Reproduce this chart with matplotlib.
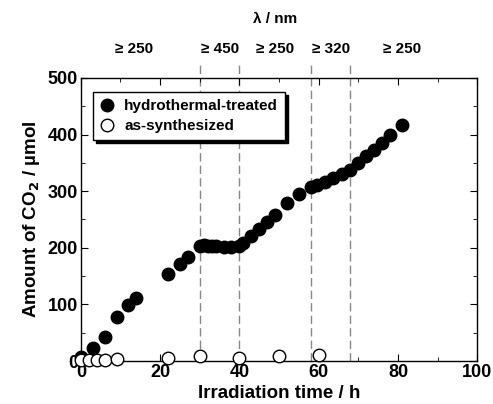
import numpy as np
import matplotlib as mpl
mpl.use('Agg')
import matplotlib.pyplot as plt
from matplotlib.ticker import MultipleLocator

# hydrothermal-treated sample
ht_time = [0, 3, 6, 9, 12, 14, 22, 25, 27, 30, 31, 32, 33, 34, 36, 38,
           40, 41, 43, 45, 47, 49, 52, 55, 58, 59.5, 61.5, 63.5, 66, 68,
           70, 72, 74, 76, 78, 81]
ht_co2 = [7, 23, 43, 78, 99, 111, 153, 172, 184, 204, 205, 204, 204, 203,
          201, 201, 203, 208, 221, 233, 246, 258, 279, 295, 308, 311, 317,
          323, 330, 337, 349, 362, 373, 386, 399, 417]

# as-synthesized sample
as_time = [0, 2, 4, 6, 9, 22, 30, 40, 50, 60]
as_co2 = [2, 2, 2, 2, 3, 5, 8, 6, 9, 11]

# wavelength regions
switch_times = [30, 40, 58, 68]
region_pos = [13.5, 35, 49, 63, 81]
region_labels = ['\u2265 250', '\u2265 450', '\u2265 250', '\u2265 320', '\u2265 250']

plt.rcParams['font.family'] = ['Liberation Sans', 'DejaVu Sans']
plt.rcParams['font.weight'] = 'bold'
plt.rcParams['axes.labelweight'] = 'bold'

fig = plt.figure(figsize=(4.93, 4.04), dpi=100)
ax = fig.add_axes([0.164, 0.1064, 0.804, 0.7006])

for t in switch_times:
    ax.plot([t, t], [0, 523], ls=(0, (6, 3)), color='#888888', lw=1.0,
            clip_on=False, zorder=1)

ax.plot(ht_time, ht_co2, 'o', color='k', ms=9, label='hydrothermal-treated',
        zorder=3, clip_on=False)
ax.plot(as_time, as_co2, 'o', mfc='white', mec='k', mew=1.0, ms=9,
        label='as-synthesized', zorder=3, clip_on=False)

ax.set_xlim(0, 100)
ax.set_ylim(0, 500)
ax.xaxis.set_major_locator(MultipleLocator(20))
ax.xaxis.set_minor_locator(MultipleLocator(10))
ax.yaxis.set_major_locator(MultipleLocator(100))
ax.yaxis.set_minor_locator(MultipleLocator(50))
ax.tick_params(which='both', direction='in', top=True, right=True,
               labelsize=13, pad=2)
ax.tick_params(which='major', length=5)
ax.tick_params(which='minor', length=3)
for lab in ax.get_xticklabels() + ax.get_yticklabels():
    lab.set_fontweight('bold')
for s in ax.spines.values():
    s.set_linewidth(1.0)

ax.set_xlabel('Irradiation time / h', fontsize=13.5, labelpad=3)
ax.set_ylabel('Amount of CO$_\\mathbf{2}$ / \u00b5mol', fontsize=13.5,
              labelpad=4)

for x, s in zip(region_pos, region_labels):
    ax.text(x, 551, s, ha='center', va='center', fontsize=11,
            fontweight='bold')
ax.text(49, 604, '\u03bb / nm', ha='center', va='center', fontsize=11,
        fontweight='bold')

leg = ax.legend(loc='upper left', bbox_to_anchor=(0.03, 0.95),
                borderaxespad=0, fancybox=False, edgecolor='k',
                framealpha=1, shadow={'color': 'k', 'alpha': 1},
                fontsize=11, handletextpad=0.6, borderpad=0.45,
                labelspacing=0.4, handlelength=1.0)
leg.get_frame().set_linewidth(1.0)

fig.savefig('out.png', dpi=100)
